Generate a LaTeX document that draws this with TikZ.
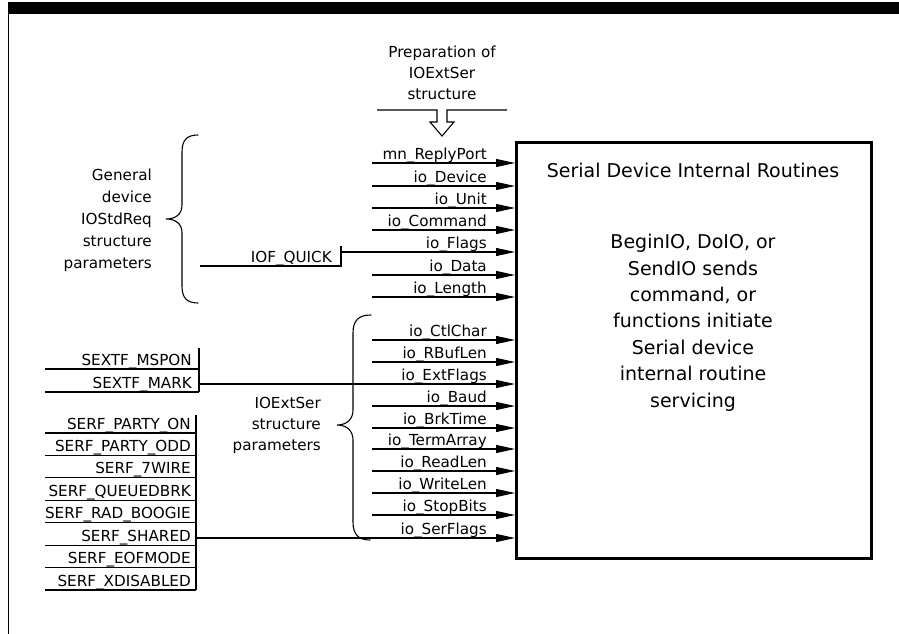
\documentclass[tikz,border=0pt]{standalone}
\usepackage{fontspec}
\setmainfont{DejaVu Sans}
\usetikzlibrary{arrows.meta}
\begin{document}
\begin{tikzpicture}[x=1pt,y=-1pt,
  wire/.style={line width=1.1pt},
  arr/.style={wire,-{Triangle[length=19pt,width=8pt]}},
  lbl/.style={inner sep=0pt,font=\fontsize{15.2}{17}\selectfont},
  big/.style={inner sep=0pt,font=\fontsize{19}{22}\selectfont},
  mainbox/.style={draw,line width=3pt,inner sep=0pt},
  bracepath/.style={line width=1.1pt,line cap=round}]

\fill[white] (0,0) rectangle (899,634);
\useasboundingbox (0,0) rectangle (899,634);

% page frame: heavy rule on top, thin rule on the left
\fill[black] (8,2.5) rectangle (899,14);
\draw[line width=1pt] (8,14) -- (8,634);

% the serial device routines box
\node[mainbox,minimum width=355pt,minimum height=416pt,anchor=north west] (box) at (515,141) {};
\node[big,anchor=base] (title) at (693,177) {Serial Device Internal Routines};
\foreach \txt/\yy [count=\i] in {{BeginIO, DoIO, or}/248,{SendIO sends}/275,{command, or}/301,
    {functions initiate}/327,{Serial device}/354,{internal routine}/380,{servicing}/407}
  \node[big,anchor=base] (body\i) at (693,\yy) {\txt};

% structure fields feeding the box
\foreach \lab/\yy/\xs [count=\i] in {
    mn\_ReplyPort/163/372, io\_Device/186/372, io\_Unit/208/372, io\_Command/230/372,
    io\_Flags/252/341, io\_Data/275/372, io\_Length/297/372,
    io\_CtlChar/340/372, io\_RBufLen/362/372, io\_ExtFlags/384/199, io\_Baud/406/372,
    io\_BrkTime/428/372, io\_TermArray/449/372, io\_ReadLen/471/372, io\_WriteLen/493/372,
    io\_StopBits/515/372, io\_SerFlags/538/196} {
  \coordinate (in\i) at (\xs,\yy);
  \node[lbl,anchor=base east] (lab\i) at (487,\yy-4) {\lab};
  \draw[arr] (in\i) -- (in\i -| box.west);
}

% preparation of the IOExtSer structure
\node[lbl,anchor=base] (prep1) at (442,57) {Preparation of};
\node[lbl,anchor=base] (prep2) at (442,78) {IOExtSer};
\node[lbl,anchor=base] (prep3) at (442,99) {structure};
\draw[wire] (377,110) -- (437,110) -- (437,122) -- (430,122) -- (442,136)
  -- (454,122) -- (447,122) -- (447,110) -- (507,110);
\coordinate (preptip) at (442,136);

% general IOStdReq parameters
\foreach \txt/\yy [count=\i] in {General/180,device/202,IOStdReq/224,structure/246,parameters/268}
  \node[lbl,anchor=base east] (gen\i) at (152,\yy) {\txt};
\draw[bracepath] (198,135) .. controls (187,135) and (182,140) .. (182,152) -- (182,205)
  .. controls (182,214) and (176,219) .. (166,219)
  .. controls (176,219) and (182,224) .. (182,233) -- (182,286)
  .. controls (182,298) and (187,303) .. (198,303);

% IOF_QUICK flag
\node[lbl,anchor=base east] (quick) at (332,262) {IOF\_QUICK};
\draw[wire] (200,266) -- (341,266) -- (341,246);

% IOExtSer parameters
\foreach \txt/\yy [count=\i] in {IOExtSer/408,structure/429,parameters/450}
  \node[lbl,anchor=base east] (ext\i) at (321,\yy) {\txt};
\draw[bracepath] (371,315) .. controls (359,315) and (353,320) .. (353,333) -- (353,410)
  .. controls (353,419) and (347,425) .. (337,425)
  .. controls (347,425) and (353,431) .. (353,440) -- (353,522)
  .. controls (353,535) and (359,540) .. (370,540);

% io_ExtFlags flags
\foreach \txt/\yy [count=\i] in {SEXTF\_MSPON/369,SEXTF\_MARK/392} {
  \node[lbl,anchor=base east] (sx\i) at (192,\yy-4) {\txt};
  \draw[wire] (45,\yy) -- (199,\yy);
}
\draw[wire] (199,348) -- (199,392);

% io_SerFlags flags
\foreach \txt [count=\i] in {SERF\_PARTY\_ON,SERF\_PARTY\_ODD,SERF\_7WIRE,SERF\_QUEUEDBRK,
    SERF\_RAD\_BOOGIE,SERF\_SHARED,SERF\_EOFMODE,SERF\_XDISABLED} {
  \pgfmathsetmacro{\yy}{433+22.43*(\i-1)}
  \node[lbl,anchor=base east] (sf\i) at (191,\yy-4) {\txt};
  \draw[wire] (45,\yy) -- (196,\yy);
}
\draw[wire] (196,415) -- (196,590);

\end{tikzpicture}
\end{document}
